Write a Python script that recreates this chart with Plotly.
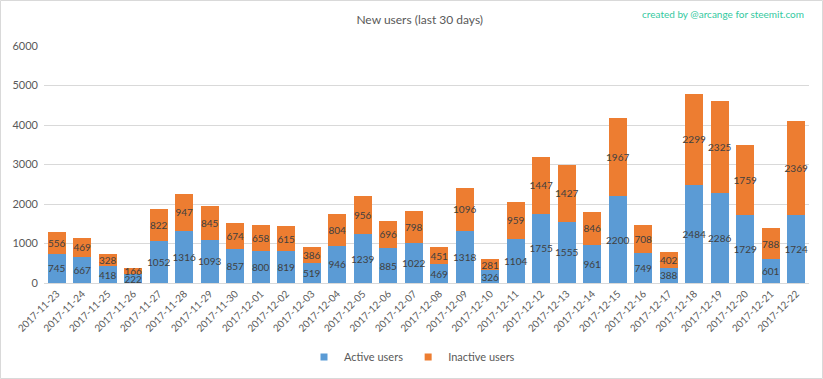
import plotly.graph_objects as go

dates = ["2017-11-23","2017-11-24","2017-11-25","2017-11-26","2017-11-27","2017-11-28","2017-11-29","2017-11-30",
         "2017-12-01","2017-12-02","2017-12-03","2017-12-04","2017-12-05","2017-12-06","2017-12-07","2017-12-08",
         "2017-12-09","2017-12-10","2017-12-11","2017-12-12","2017-12-13","2017-12-14","2017-12-15","2017-12-16",
         "2017-12-17","2017-12-18","2017-12-19","2017-12-20","2017-12-21","2017-12-22"]
active = [745, 667, 418, 222, 1052, 1316, 1093, 857, 800, 819, 519, 946, 1239, 885, 1022, 469, 1318, 326,
          1104, 1755, 1555, 961, 2200, 749, 388, 2484, 2286, 1729, 601, 1724]
inactive = [556, 469, 328, 166, 822, 947, 845, 674, 658, 615, 386, 804, 956, 696, 798, 451, 1096, 281,
            959, 1447, 1427, 846, 1967, 708, 402, 2299, 2325, 1759, 788, 2369]
y_ticks = [0, 1000, 2000, 3000, 4000, 5000, 6000]

FONT = "Lato, 'Open Sans', sans-serif"
TXT = "#595959"
BLUE, ORANGE = "#5B9BD5", "#ED7D31"

fig = go.Figure()
for vals, name, col in [(active, "Active users", BLUE), (inactive, "Inactive users", ORANGE)]:
    fig.add_trace(go.Bar(x=dates, y=vals, name=name, showlegend=False,
                         marker=dict(color=col, line=dict(width=0)),
                         text=[str(v) for v in vals], textposition="inside", insidetextanchor="middle",
                         textangle=0, textfont=dict(size=10, color="#404040", family=FONT)))
for name, col in [("Active users", BLUE), ("Inactive users", ORANGE)]:
    fig.add_trace(go.Scatter(x=[None], y=[None], mode="markers", name=name,
                             marker=dict(symbol="square", size=7, color=col)))

L, R, T, B = 44, 14, 46, 96
W, H = 823, 379
pw, ph = W - L - R, H - T - B

fig.update_layout(
    width=W, height=H, barmode="stack", bargap=0.275,
    margin=dict(l=L, r=R, t=T, b=B, autoexpand=False),
    paper_bgcolor="white", plot_bgcolor="white",
    font=dict(family=FONT, color=TXT, size=11),
    uniformtext=dict(minsize=10, mode="show"),
    title=dict(text="New users (last 30 days)", x=0.51, xanchor="center", y=1 - 20 / H, yanchor="middle",
               font=dict(size=12, color=TXT, family=FONT)),
    showlegend=True,
    legend=dict(orientation="h", x=(412 - L) / pw, xanchor="center", yref="container", y=1 - 357 / H,
                yanchor="middle", font=dict(size=11, color=TXT), itemwidth=30, traceorder="normal",
                tracegroupgap=0),
    xaxis=dict(type="category", tickangle=-45, tickfont=dict(size=10, color=TXT), showgrid=False,
               showline=True, linecolor="#D9D9D9", linewidth=1, ticks="", automargin=False),
    yaxis=dict(range=[0, 6000], tickvals=y_ticks, tickfont=dict(size=11, color=TXT), showgrid=True,
               gridcolor="#D9D9D9", gridwidth=1, zeroline=False, showline=False, ticks="", automargin=False,
               ticklabelstandoff=5),
    annotations=[dict(text="created by @arcange for steemit.com", xref="paper", yref="paper",
                      x=(806 - L) / pw, y=(H - B - 14) / ph, xanchor="right", yanchor="middle",
                      showarrow=False, font=dict(size=10, color="#33C9A0", family=FONT))],
    shapes=[dict(type="rect", xref="paper", yref="paper",
                 x0=(0.5 - L) / pw, x1=(822.5 - L) / pw, y0=(H - B - 378.5) / ph, y1=(H - B - 0.5) / ph,
                 line=dict(color="#D9D9D9", width=1), fillcolor="rgba(0,0,0,0)", layer="below")],
)

fig.write_html("out.html", config={"displayModeBar": False},
               post_script="document.body.style.margin='0';")
